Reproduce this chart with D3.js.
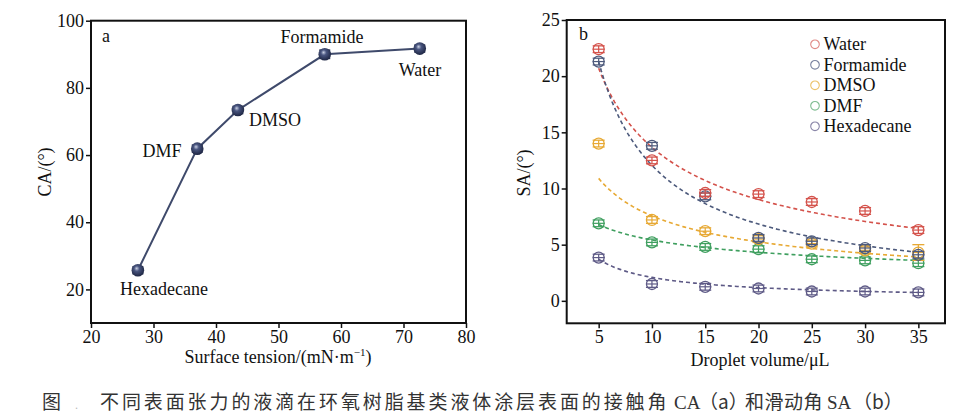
<!DOCTYPE html>
<html>
<head>
<meta charset="utf-8">
<script src="https://cdn.jsdelivr.net/npm/d3@7"></script>
<style>
  body { margin: 0; background: #fff; }
  svg { display: block; }
  text { font-family: "Liberation Serif", "Noto Sans CJK SC", serif; fill: #111; }
</style>
</head>
<body>
<svg id="chart" width="970" height="420"></svg>
<script>
// panel a: contact angle vs surface tension
var liquidsA = ['Hexadecane', 'DMF', 'DMSO', 'Formamide', 'Water'];
var tensionA = [27.5, 37.0, 43.5, 57.4, 72.6];
var contactAngle = [25.7, 61.9, 73.4, 90.0, 91.7];
var contactErr = [1.0, 1.0, 1.0, 1.2, 1.0];
var xTicksA = [20, 30, 40, 50, 60, 70, 80];
var yTicksA = [20, 40, 60, 80, 100];

// panel b: sliding angle vs droplet volume
var volumes = [5, 10, 15, 20, 25, 30, 35];
var seriesNames = ['Water', 'Formamide', 'DMSO', 'DMF', 'Hexadecane'];
var waterSA = [22.4, 12.5, 9.6, 9.5, 8.8, 8.0, 6.3];
var formamideSA = [21.3, 13.8, 9.3, 5.6, 5.3, 4.7, 4.1];
var dmsoSA = [14.0, 7.2, 6.2, 5.5, 5.1, 4.5, 4.3];
var dmfSA = [6.9, 5.2, 4.8, 4.6, 3.7, 3.6, 3.35];
var hexadecaneSA = [3.85, 1.5, 1.25, 1.1, 0.83, 0.83, 0.75];
var slideErr = [0.3, 0.3, 0.3, 0.3, 0.3, 0.3, 0.3];
var dmsoErr35 = 0.7;
// allometric fit y = a * x^b, coefficients
var fitA = [54.4, 79.7, 25.5, 11.5, 14.0];
var fitB = [-0.60, -0.82, -0.528, -0.327, -0.827];
var xTicksB = [5, 10, 15, 20, 25, 30, 35];
var yTicksB = [0, 5, 10, 15, 20, 25];

var seriesColors = ['#d4524b', '#4d5a7c', '#e7a934', '#3f9f5f', '#5e5a86'];
var legendColors = ['#e08a86', '#7a83a0', '#ecc36a', '#80bd92', '#8a86a8'];

var svg = d3.select('#chart');

// sphere gradient for panel a markers
var defs = svg.append('defs');
var grad = defs.append('radialGradient')
  .attr('id', 'ball')
  .attr('cx', '45%').attr('cy', '40%').attr('r', '60%')
  .attr('fx', '40%').attr('fy', '35%');
grad.append('stop').attr('offset', '0%').attr('stop-color', '#c9d0e4');
grad.append('stop').attr('offset', '35%').attr('stop-color', '#4a5680');
grad.append('stop').attr('offset', '100%').attr('stop-color', '#1d2542');

function drawFrame(g, x, y, xTicks, yTicks) {
  var x0 = x.range()[0], x1 = x.range()[1];
  var y0 = y.range()[0], y1 = y.range()[1];

  g.append('g')
    .attr('transform', 'translate(0,' + y0 + ')')
    .call(d3.axisBottom(x).tickValues(xTicks).tickSize(5).tickPadding(2))
    .call(styleAxis);

  g.append('g')
    .attr('transform', 'translate(' + x0 + ',0)')
    .call(d3.axisLeft(y).tickValues(yTicks).tickSize(5).tickPadding(2))
    .call(styleAxis);

  g.append('rect')
    .attr('x', x0).attr('y', y1)
    .attr('width', x1 - x0).attr('height', y0 - y1)
    .attr('fill', 'none')
    .attr('stroke', '#111')
    .attr('stroke-width', 2);
}

function styleAxis(ax) {
  ax.select('.domain').remove();
  ax.selectAll('.tick line').attr('stroke', '#111').attr('stroke-width', 1.5);
  ax.selectAll('.tick text')
    .attr('fill', '#111')
    .style('font-family', '"Liberation Serif", serif')
    .style('font-size', '18px');
}

// ---------- panel a ----------
var xA = d3.scaleLinear().domain([20, 80]).range([91, 466]);
var yA = d3.scaleLinear().domain([10, 100]).range([323, 20.7]);
var gA = svg.append('g');

drawFrame(gA, xA, yA, xTicksA, yTicksA);

var lineA = d3.line()
  .x(function (d, i) { return xA(tensionA[i]); })
  .y(function (d) { return yA(d); });

gA.append('path')
  .datum(contactAngle)
  .attr('d', lineA)
  .attr('fill', 'none')
  .attr('stroke', '#3f4a6b')
  .attr('stroke-width', 2);

var ptsA = gA.selectAll('.ptA')
  .data(contactAngle)
  .enter().append('g')
  .attr('class', 'ptA')
  .attr('transform', function (d, i) {
    return 'translate(' + xA(tensionA[i]) + ',' + yA(d) + ')';
  });

ptsA.append('line')
  .attr('x1', 0).attr('x2', 0)
  .attr('y1', function (d, i) { return yA(d + contactErr[i]) - yA(d); })
  .attr('y2', function (d, i) { return yA(d - contactErr[i]) - yA(d); })
  .attr('stroke', '#2a3352').attr('stroke-width', 1.2);
ptsA.selectAll('.cap')
  .data(function (d, i) { return [d + contactErr[i], d - contactErr[i]].map(function (v) { return yA(v) - yA(d); }); })
  .enter().append('line')
  .attr('x1', -5.5).attr('x2', 5.5)
  .attr('y1', function (d) { return d; })
  .attr('y2', function (d) { return d; })
  .attr('stroke', '#2a3352').attr('stroke-width', 1.8);
ptsA.append('circle')
  .attr('r', 6.3)
  .attr('fill', 'url(#ball)');

var labelPosA = [[164, 295, 'middle'], [162, 157, 'middle'], [249, 126, 'start'], [322, 43, 'middle'], [420, 76, 'middle']];
gA.selectAll('.lblA')
  .data(liquidsA)
  .enter().append('text')
  .attr('class', 'lblA')
  .attr('x', function (d, i) { return labelPosA[i][0]; })
  .attr('y', function (d, i) { return labelPosA[i][1]; })
  .attr('text-anchor', function (d, i) { return labelPosA[i][2]; })
  .style('font-size', '18px')
  .text(function (d) { return d; });

gA.append('text').attr('x', 102).attr('y', 42).style('font-size', '18px').text('a');

var xTitleA = gA.append('text')
  .attr('x', 278).attr('y', 363)
  .attr('text-anchor', 'middle')
  .style('font-size', '18px')
  .text('Surface tension/(mN\u00b7m');
xTitleA.append('tspan').attr('dy', -7).style('font-size', '11px').text('\u22121');
xTitleA.append('tspan').attr('dy', 7).text(')');

gA.append('text')
  .attr('transform', 'translate(51,172) rotate(-90)')
  .attr('text-anchor', 'middle')
  .style('font-size', '18px')
  .text('CA/(\u00b0)');

// ---------- panel b ----------
var xB = d3.scaleLinear().domain([2, 37.5]).range([566.7, 945]);
var yB = d3.scaleLinear().domain([-2, 25]).range([323.3, 20]);
var gB = svg.append('g');

drawFrame(gB, xB, yB, xTicksB, yTicksB);

var allSA = [waterSA, formamideSA, dmsoSA, dmfSA, hexadecaneSA];

// fitted curves
var fitX = d3.range(5, 35.01, 0.25);
var fitLine = d3.line()
  .x(function (d) { return xB(d[0]); })
  .y(function (d) { return yB(d[1]); });

gB.selectAll('.fit')
  .data(seriesNames)
  .enter().append('path')
  .attr('class', 'fit')
  .attr('d', function (d, s) {
    return fitLine(fitX.map(function (v) { return [v, fitA[s] * Math.pow(v, fitB[s])]; }));
  })
  .attr('fill', 'none')
  .attr('stroke', function (d, s) { return seriesColors[s]; })
  .attr('stroke-width', 1.6)
  .attr('stroke-dasharray', '4,3');

// markers with error bars (draw bottom series first)
seriesNames.slice().reverse().forEach(function (name) {
  var s = seriesNames.indexOf(name);
  var col = seriesColors[s];
  var pts = gB.selectAll('.pt' + s)
    .data(allSA[s])
    .enter().append('g')
    .attr('transform', function (d, i) {
      return 'translate(' + xB(volumes[i]) + ',' + yB(d) + ')';
    });

  function errOf(i) {
    return (name === 'DMSO' && i === 6) ? dmsoErr35 : slideErr[i];
  }

  pts.append('circle')
    .attr('r', 5.5)
    .attr('fill', 'none')
    .attr('stroke', col)
    .attr('stroke-width', 1.3);
  pts.append('line')
    .attr('x1', 0).attr('x2', 0)
    .attr('y1', function (d, i) { return yB(d + errOf(i)) - yB(d); })
    .attr('y2', function (d, i) { return yB(d - errOf(i)) - yB(d); })
    .attr('stroke', col).attr('stroke-width', 1.2);
  pts.append('line')
    .attr('x1', -6).attr('x2', 6)
    .attr('y1', 0).attr('y2', 0)
    .attr('stroke', col).attr('stroke-width', 1.2);
  pts.append('line')
    .attr('x1', -6).attr('x2', 6)
    .attr('y1', function (d, i) { return yB(d + errOf(i)) - yB(d); })
    .attr('y2', function (d, i) { return yB(d + errOf(i)) - yB(d); })
    .attr('stroke', col).attr('stroke-width', 1.3);
  pts.append('line')
    .attr('x1', -6).attr('x2', 6)
    .attr('y1', function (d, i) { return yB(d - errOf(i)) - yB(d); })
    .attr('y2', function (d, i) { return yB(d - errOf(i)) - yB(d); })
    .attr('stroke', col).attr('stroke-width', 1.3);
});

// legend
var legend = gB.selectAll('.leg')
  .data(seriesNames)
  .enter().append('g')
  .attr('transform', function (d, i) { return 'translate(815,' + (44.3 + i * 20.5) + ')'; });
legend.append('circle')
  .attr('r', 4.3)
  .attr('fill', 'none')
  .attr('stroke', function (d, i) { return legendColors[i]; })
  .attr('stroke-width', 1.1);
legend.append('text')
  .attr('x', 8.5).attr('y', 6)
  .style('font-size', '18px')
  .text(function (d) { return d; });

gB.append('text').attr('x', 579).attr('y', 40).style('font-size', '18px').text('b');

gB.append('text')
  .attr('x', 760).attr('y', 366)
  .attr('text-anchor', 'middle')
  .style('font-size', '18px')
  .text('Droplet volume/\u03bcL');

gB.append('text')
  .attr('transform', 'translate(530,173) rotate(-90)')
  .attr('text-anchor', 'middle')
  .style('font-size', '18px')
  .text('SA/(\u00b0)');

// ---------- caption ----------
var cap = svg.append('g').style('font-size', '19px');
cap.append('text').attr('x', 42).attr('y', 409)
  .style('font-family', '"Noto Sans CJK SC", sans-serif').style('fill', '#333').text('\u56fe');
cap.append('text').attr('x', 75).attr('y', 409).style('fill', '#bbb').style('font-size', '12px').text('.');
var capParts = [
  ['\u4e0d\u540c\u8868\u9762\u5f20\u529b\u7684\u6db2\u6ef4\u5728\u73af\u6c27\u6811\u8102\u57fa\u7c7b\u6db2\u4f53\u6d82\u5c42\u8868\u9762\u7684\u63a5\u89e6\u89d2', 100, 2.9, 'cjk'],
  ['CA', 674, 0, 'lat'],
  ['\uff08a\uff09', 699, 0, 'cjk'],
  ['\u548c\u6ed1\u52a8\u89d2', 745, 0.5, 'cjk'],
  ['SA', 827, 0, 'lat'],
  ['\uff08b\uff09', 853, 0, 'cjk']
];
cap.selectAll('.cp')
  .data(capParts)
  .enter().append('text')
  .attr('x', function (d) { return d[1]; })
  .attr('y', 409)
  .style('font-family', function (d) {
    return d[3] === 'cjk' ? '"Noto Sans CJK SC", sans-serif' : '"Liberation Serif", serif';
  })
  .style('letter-spacing', function (d) { return d[2] + 'px'; })
  .style('fill', '#333')
  .text(function (d) { return d[0]; });
</script>
</body>
</html>
